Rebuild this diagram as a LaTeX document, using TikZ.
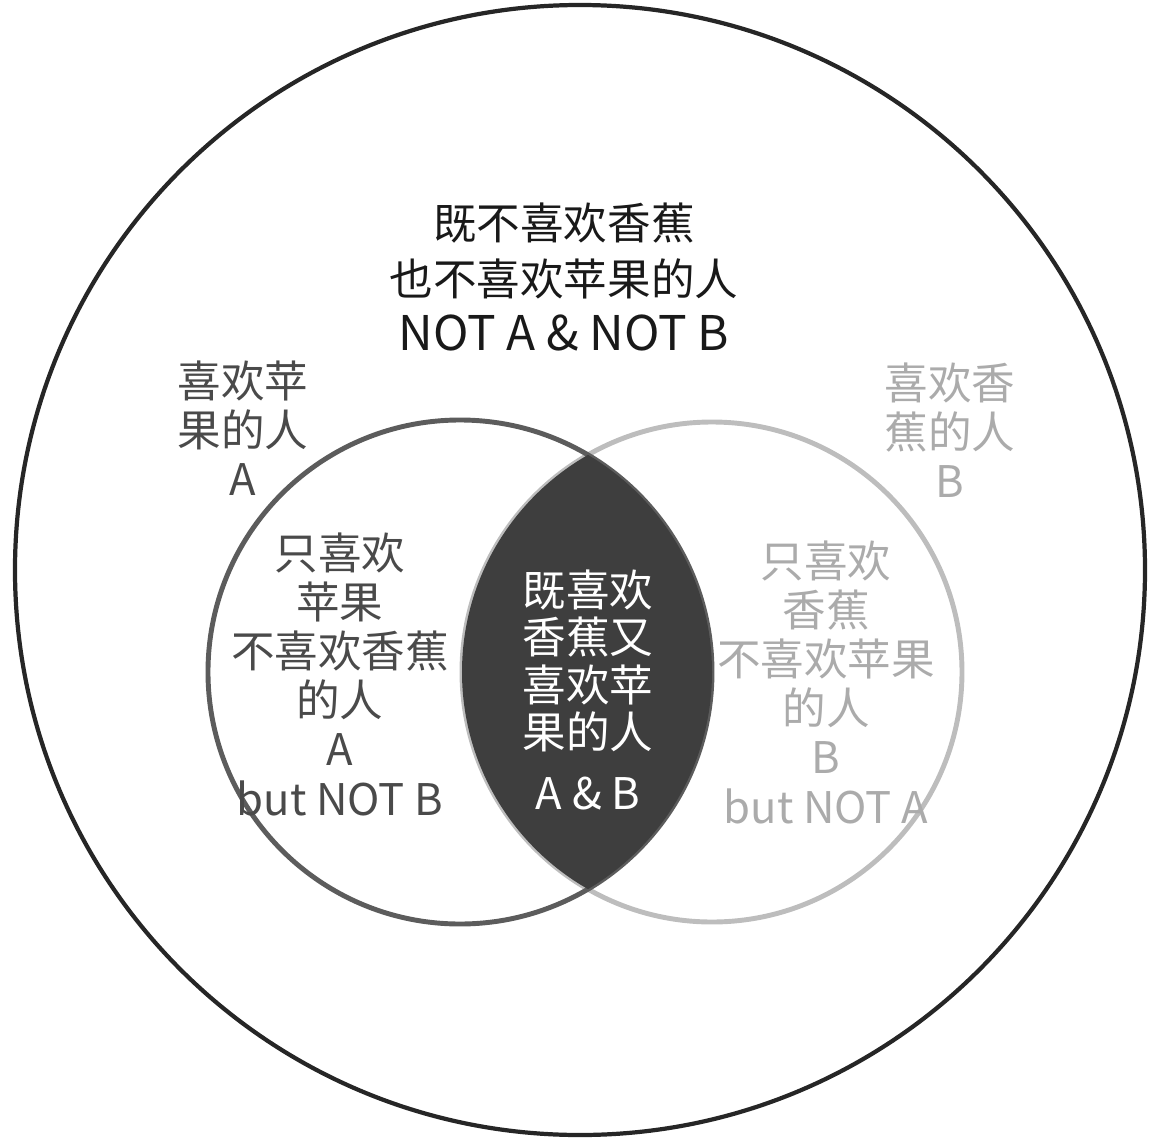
\documentclass[tikz,border=0pt]{standalone}
\usepackage{fontspec}
\setmainfont{Noto Sans CJK SC}
\usetikzlibrary{positioning}
\definecolor{inkA}{HTML}{4A4A4A}
\definecolor{ringA}{HTML}{5C5C5C}
\definecolor{inkB}{HTML}{ABABAB}
\definecolor{ringB}{HTML}{BDBDBD}
\definecolor{both}{HTML}{3E3E3E}
\tikzset{
  lbl/.style={align=center, inner sep=0pt, font=\fontsize{12.4}{14}\selectfont},
  ring/.style={line width=1.4pt}
}

\begin{document}
\begin{tikzpicture}
\useasboundingbox (-5.80,-5.70) rectangle (5.72,5.70);
\coordinate (cU) at (0,0);
\coordinate (cA) at (-1.20,-1.02);
\coordinate (cB) at (1.32,-1.02);
% outer set and the two fruit sets
\draw[line width=1.2pt, black!85] (cU) circle (5.65);
\draw[ring, ringB] (cB) circle (2.50);
\draw[ring, ringA] (cA) circle (2.52);
\begin{scope}
  \clip (cA) circle (2.52);
  \fill[both] (cB) circle (2.50);
\end{scope}
% labels
\node[lbl, black!90, font=\fontsize{12.4}{15.9}\selectfont] (none) at (-0.16,2.93)
  {既不喜欢香蕉\\也不喜欢苹果的人\\{\fontsize{13.6}{15.9}\selectfont NOT A \& NOT B}};
\node[lbl, inkA] (setA) at (-3.37,1.42) {喜欢苹\\果的人\\A};
\node[lbl, inkB] (setB) at (3.70,1.40) {喜欢香\\蕉的人\\B};
\node[lbl, inkA] (onlyA) at (-2.40,-1.04)
  {只喜欢\\苹果\\不喜欢香蕉\\的人\\A\\but NOT B};
\node[lbl, inkB] (onlyB) at (2.46,-1.12)
  {只喜欢\\香蕉\\不喜欢苹果\\的人\\B\\but NOT A};
\node[lbl, white, font=\fontsize{12.4}{13.4}\selectfont] (AB) at (0.08,-1.20)
  {既喜欢\\香蕉又\\喜欢苹\\果的人\\[4pt]A \& B};
\end{tikzpicture}
\end{document}
